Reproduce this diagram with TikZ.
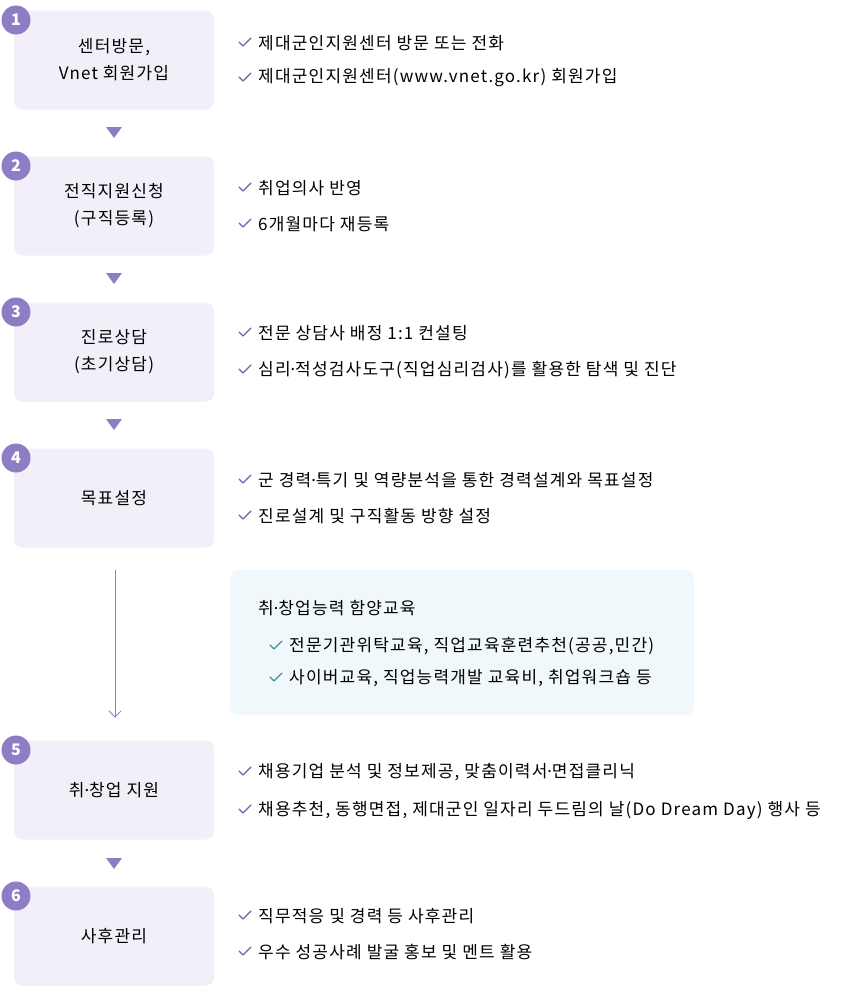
\documentclass[tikz,border=0pt]{standalone}
\usepackage{fontspec}
\setmainfont[LetterSpace=7]{Noto Sans CJK KR}
\newfontfamily\latinfont{Noto Sans}
\newcommand{\md}{{\latinfont ·}}
\usetikzlibrary{positioning,calc}
\definecolor{stepfill}{RGB}{243,239,248}
\definecolor{stepnum}{RGB}{142,124,197}
\definecolor{chk}{RGB}{110,96,170}
\definecolor{infofill}{RGB}{240,248,251}
\definecolor{infochk}{RGB}{74,138,154}
\tikzset{
  stepbox/.style={draw=none,fill=stepfill,rounded corners=8pt,minimum width=200pt,minimum height=99pt,align=center,font=\fontsize{17}{27}\selectfont},
  numdot/.style={circle,fill=stepnum,minimum size=29pt,inner sep=0pt,text=white,font=\fontsize{16}{16}\selectfont\bfseries},
  item/.style={anchor=west,inner sep=0pt,font=\fontsize{17}{17}\selectfont},
}
\newcommand{\chkmark}[3][chk]{\draw[#1,line width=1.3pt,line cap=round,line join=round] ($(#2)+(-19pt,1pt)$) -- ++(4pt,-4pt) -- ++(8pt,8pt);}
\begin{document}
\begin{tikzpicture}[x=1pt,y=-1pt]
\useasboundingbox (0,0) rectangle (844,986);

% steps
\node[stepbox] (s1) at (114,60) {센터방문,\\Vnet 회원가입};
\node[stepbox] (s2) at (114,206) {전직지원신청\\(구직등록)};
\node[stepbox] (s3) at (114,352) {진로상담\\(초기상담)};
\node[stepbox] (s4) at (114,498) {목표설정};
\node[stepbox] (s5) at (114,790) {취\md 창업 지원};
\node[stepbox] (s6) at (114,936) {사후관리};
\foreach \i/\y in {1/20,2/166,3/312,4/458,5/750,6/896}
  \node[numdot] (n\i) at (16,\y) {\i};

% triangles between steps
\foreach \y in {127,273,419,858}
  \fill[stepnum] (106,\y) -- (122,\y) -- (114,\y+11) -- cycle;

% info box
\node[fill=infofill,rounded corners=8pt,minimum width=464pt,minimum height=145pt] (info) at (462,642.5) {};
\node[item] (infot) at (258,608) {취\md 창업능력 함양교육};
\coordinate (c1) at (289,646);
\coordinate (c2) at (289,678);
\node[item] at (c1) {전문기관위탁교육, 직업교육훈련추천(공공,민간)};
\node[item] at (c2) {사이버교육, 직업능력개발 교육비, 취업워크숍 등};
\chkmark[infochk]{c1}{}
\chkmark[infochk]{c2}{}
\coordinate (a1) at (115,570);
\coordinate (a2) at (115,717);
\draw[stepnum,line width=1pt] (a1) -- (a2);
\draw[stepnum,line width=1pt,line cap=round] (109,711) -- (a2) -- (121,711);

% items
\foreach \y/\t in {
  43/제대군인지원센터 방문 또는 전화,
  78/제대군인지원센터(www.vnet.go.kr) 회원가입,
  188/취업의사 반영,
  224/6개월마다 재등록,
  333/전문 상담사 배정 1:1 컨설팅,
  370/심리\md 적성검사도구(직업심리검사)를 활용한 탐색 및 진단,
  480/군 경력\md 특기 및 역량분석을 통한 경력설계와 목표설정,
  516/진로설계 및 구직활동 방향 설정,
  772/{채용기업 분석 및 정보제공, 맞춤이력서\md 면접클리닉},
  810/{채용추천, 동행면접, 제대군인 일자리 두드림의 날(Do Dream Day) 행사 등},
  916/직무적응 및 경력 등 사후관리,
  952/우수 성공사례 발굴 홍보 및 멘트 활용}{
  \node[item] at (258,\y) {\t};
  \chkmark{258,\y}{}
}
\end{tikzpicture}
\end{document}
